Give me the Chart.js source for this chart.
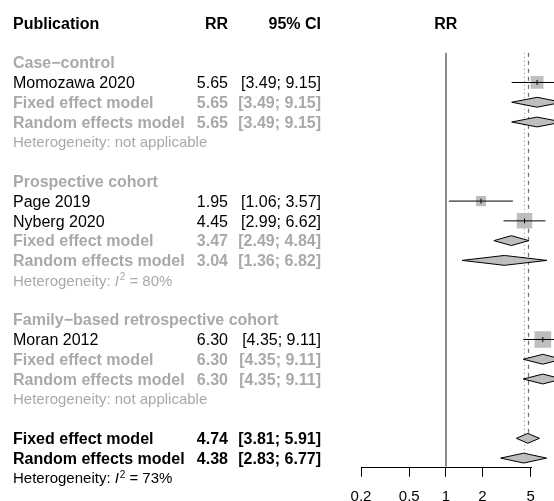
<!DOCTYPE html>
<html>
<head>
<meta charset="utf-8">
<script src="https://cdn.jsdelivr.net/npm/chart.js@4/dist/chart.umd.min.js"></script>
<style>
  html, body { margin: 0; padding: 0; background: #ffffff; overflow: hidden; }
  #c { display: block; }
</style>
</head>
<body>
<canvas id="c" width="554" height="501"></canvas>
<script>
// ---- Meta-analysis data -------------------------------------------------
const groups     = ['Case\u2212control', 'Prospective cohort', 'Family\u2212based retrospective cohort'];
const groupRow   = [0, 6, 13];

const studies     = ['Momozawa 2020', 'Page 2019', 'Nyberg 2020', 'Moran 2012'];
const studyRow    = [1, 7, 8, 14];
const studyRR     = [5.65, 1.95, 4.45, 6.30];
const studyLower  = [3.49, 1.06, 2.99, 4.35];
const studyUpper  = [9.15, 3.57, 6.62, 9.11];
const studyWeight = [20.8, 13.1, 30.6, 35.4];   // fixed effect weights, %

const pooledModel   = ['Fixed effect model', 'Random effects model',
                       'Fixed effect model', 'Random effects model',
                       'Fixed effect model', 'Random effects model',
                       'Fixed effect model', 'Random effects model'];
const pooledRow     = [2, 3, 9, 10, 15, 16, 19, 20];
const pooledRR      = [5.65, 5.65, 3.47, 3.04, 6.30, 6.30, 4.74, 4.38];
const pooledLower   = [3.49, 3.49, 2.49, 1.36, 4.35, 4.35, 3.81, 2.83];
const pooledUpper   = [9.15, 9.15, 4.84, 6.82, 9.11, 9.11, 5.91, 6.77];
const pooledOverall = [false, false, false, false, false, false, true, true];

const hetRow     = [4, 11, 17, 21];
const hetI2      = [null, 80, null, 73];
const hetOverall = [false, false, false, true];

const xTicks = [0.2, 0.5, 1, 2, 5];

// ---- Styling ------------------------------------------------------------
const FONT = '"Liberation Sans", Arial, Helvetica, sans-serif';
const GREY_TEXT = '#a9a9a9';
const BOX_FILL = '#bebebe';
const DIAMOND_HALF = 0.25;            // half height of a diamond, in rows
const BOX_SCALE = 2.8;                // box side (px) per sqrt(weight %)
const COL_LABEL_X = 13, COL_RR_RIGHT = 228, COL_CI_RIGHT = 321;
const X_AXIS_HEIGHT = 34.3;

const fmt = v => v.toFixed(2);
const ciText = (l, u) => '[' + fmt(l) + '; ' + fmt(u) + ']';
const font = (size, bold, italic) =>
  (italic ? 'italic ' : '') + (bold ? 'bold ' : '') + size + 'px ' + FONT;

// ---- Datasets -----------------------------------------------------------
const datasets = [];

// study boxes (area proportional to weight)
datasets.push({
  label: 'boxes',
  data: studies.map((s, i) => ({ x: studyRR[i], y: studyRow[i] })),
  pointStyle: 'rect',
  pointRadius: studyWeight.map(w => BOX_SCALE * Math.sqrt(w) / Math.SQRT2),
  backgroundColor: BOX_FILL,
  borderWidth: 0,
  showLine: false,
  order: 3
});

// confidence intervals of the studies
studies.forEach((s, i) => {
  datasets.push({
    label: s,
    data: [{ x: studyLower[i], y: studyRow[i] }, { x: studyUpper[i], y: studyRow[i] }],
    showLine: true,
    borderColor: '#000000',
    borderWidth: 1,
    pointRadius: 0,
    fill: false,
    order: 2
  });
});

// point estimate marks inside the boxes
datasets.push({
  label: 'estimates',
  data: studies.map((s, i) => ({ x: studyRR[i], y: studyRow[i] })),
  pointStyle: 'line',
  rotation: 90,
  pointRadius: 2.5,
  borderColor: '#000000',
  borderWidth: 1,
  showLine: false,
  order: 1
});

// pooled estimates as diamonds
pooledModel.forEach((m, i) => {
  const r = pooledRow[i];
  datasets.push({
    label: m,
    data: [
      { x: pooledLower[i], y: r },
      { x: pooledRR[i], y: r - DIAMOND_HALF },
      { x: pooledUpper[i], y: r },
      { x: pooledRR[i], y: r + DIAMOND_HALF },
      { x: pooledLower[i], y: r }
    ],
    showLine: true,
    fill: 'shape',
    backgroundColor: BOX_FILL,
    borderColor: '#000000',
    borderWidth: 1,
    pointRadius: 0,
    tension: 0,
    order: 2
  });
});

// ---- Reference lines (drawn under the marks) ----------------------------
const refLines = {
  id: 'refLines',
  beforeDatasetsDraw(chart) {
    const { ctx, chartArea } = chart;
    const xs = chart.scales.x, ys = chart.scales.y;
    const top = ys.getPixelForValue(-0.5);
    ctx.save();
    // line of no effect
    const x1 = Math.round(xs.getPixelForValue(1));
    ctx.strokeStyle = '#8a8a8a';
    ctx.lineWidth = 2;
    ctx.beginPath();
    ctx.moveTo(x1, top);
    ctx.lineTo(x1, chartArea.bottom);
    ctx.stroke();
    // overall fixed effect (dashed)
    const xf = Math.round(xs.getPixelForValue(pooledRR[6])) + 0.5;
    ctx.strokeStyle = '#6e6e6e';
    ctx.lineWidth = 1.2;
    ctx.setLineDash([4, 4]);
    ctx.beginPath();
    ctx.moveTo(xf, top);
    ctx.lineTo(xf, ys.getPixelForValue(pooledRow[6]));
    ctx.stroke();
    // overall random effects (dotted)
    const xr = Math.round(xs.getPixelForValue(pooledRR[7])) + 0.5;
    ctx.strokeStyle = '#8c8c8c';
    ctx.lineWidth = 1;
    ctx.setLineDash([1, 3]);
    ctx.beginPath();
    ctx.moveTo(xr, top);
    ctx.lineTo(xr, ys.getPixelForValue(pooledRow[7]));
    ctx.stroke();
    ctx.restore();
  }
};

// ---- Axis line between the outer ticks ----------------------------------
const axisLine = {
  id: 'axisLine',
  afterDraw(chart) {
    const { ctx, chartArea } = chart;
    const xs = chart.scales.x;
    const y = Math.round(chartArea.bottom) + 0.5;
    ctx.save();
    ctx.strokeStyle = '#000000';
    ctx.lineWidth = 1;
    ctx.beginPath();
    ctx.moveTo(Math.round(xs.getPixelForValue(xTicks[0])), y);
    ctx.lineTo(Math.round(xs.getPixelForValue(xTicks[xTicks.length - 1])) + 1, y);
    ctx.stroke();
    ctx.restore();
  }
};

// ---- Table text ---------------------------------------------------------
const tableText = {
  id: 'tableText',
  afterDraw(chart) {
    const { ctx } = chart;
    const xs = chart.scales.x, ys = chart.scales.y;
    const rowY = r => ys.getPixelForValue(r);

    function text(str, x, r, size, bold, color, align) {
      ctx.font = font(size, bold, false);
      ctx.fillStyle = color;
      ctx.textAlign = align || 'left';
      ctx.textBaseline = 'alphabetic';
      ctx.fillText(str, x, rowY(r) + size * 0.357);
    }

    ctx.save();
    // headers
    text('Publication', COL_LABEL_X, -2, 16, true, '#000');
    text('RR', COL_RR_RIGHT, -2, 16, true, '#000', 'right');
    text('95% CI', COL_CI_RIGHT, -2, 16, true, '#000', 'right');
    text('RR', xs.getPixelForValue(1), -2, 16, true, '#000', 'center');

    // subgroup titles
    groups.forEach((g, i) => text(g, COL_LABEL_X, groupRow[i], 16, true, GREY_TEXT));

    // studies
    studies.forEach((s, i) => {
      text(s, COL_LABEL_X, studyRow[i], 16, false, '#000');
      text(fmt(studyRR[i]), COL_RR_RIGHT, studyRow[i], 16, false, '#000', 'right');
      text(ciText(studyLower[i], studyUpper[i]), COL_CI_RIGHT, studyRow[i], 16, false, '#000', 'right');
    });

    // pooled estimates
    pooledModel.forEach((m, i) => {
      const col = pooledOverall[i] ? '#000' : GREY_TEXT;
      text(m, COL_LABEL_X, pooledRow[i], 16, true, col);
      text(fmt(pooledRR[i]), COL_RR_RIGHT, pooledRow[i], 16, true, col, 'right');
      text(ciText(pooledLower[i], pooledUpper[i]), COL_CI_RIGHT, pooledRow[i], 16, true, col, 'right');
    });

    // heterogeneity statements
    hetRow.forEach((r, i) => {
      const col = hetOverall[i] ? '#000' : GREY_TEXT;
      const base = rowY(r) + 15 * 0.357;
      ctx.fillStyle = col;
      ctx.textAlign = 'left';
      ctx.textBaseline = 'alphabetic';
      ctx.font = font(15, false, false);
      if (hetI2[i] === null) {
        ctx.fillText('Heterogeneity: not applicable', COL_LABEL_X, base);
        return;
      }
      let x = COL_LABEL_X;
      const lead = 'Heterogeneity: ';
      ctx.fillText(lead, x, base);
      x += ctx.measureText(lead).width;
      ctx.font = font(15, false, true);
      ctx.fillText('I', x, base);
      x += ctx.measureText('I').width + 0.8;
      ctx.font = font(10, false, false);
      ctx.fillText('2', x, base - 5.5);
      x += ctx.measureText('2').width;
      ctx.font = font(15, false, false);
      ctx.fillText(' = ' + hetI2[i] + '%', x, base);
    });
    ctx.restore();
  }
};

// ---- Chart --------------------------------------------------------------
new Chart(document.getElementById('c'), {
  type: 'scatter',
  data: { datasets },
  options: {
    responsive: false,
    animation: false,
    events: [],
    layout: { autoPadding: false, padding: { left: 361, right: 0, top: 42.93, bottom: 0 } },
    plugins: { legend: { display: false }, tooltip: { enabled: false } },
    scales: {
      x: {
        type: 'logarithmic',
        min: 0.2,
        max: 7.79,
        position: 'bottom',
        afterBuildTicks: scale => { scale.ticks = xTicks.map(v => ({ value: v })); },
        afterFit: scale => {
          scale.height = X_AXIS_HEIGHT;
          scale.paddingLeft = 0;
          scale.paddingRight = 0;
        },
        border: { display: false },
        grid: {
          display: true,
          drawOnChartArea: false,
          drawTicks: true,
          tickLength: 10,
          color: '#000000',
          lineWidth: 1
        },
        ticks: {
          callback: v => String(v),
          color: '#000000',
          padding: 11,
          maxRotation: 0,
          autoSkip: false,
          font: { family: FONT, size: 15, lineHeight: 1.2 }
        }
      },
      y: {
        type: 'linear',
        reverse: true,
        min: -1,
        max: 20.435,
        display: false
      }
    }
  },
  plugins: [refLines, axisLine, tableText]
});
</script>
</body>
</html>
